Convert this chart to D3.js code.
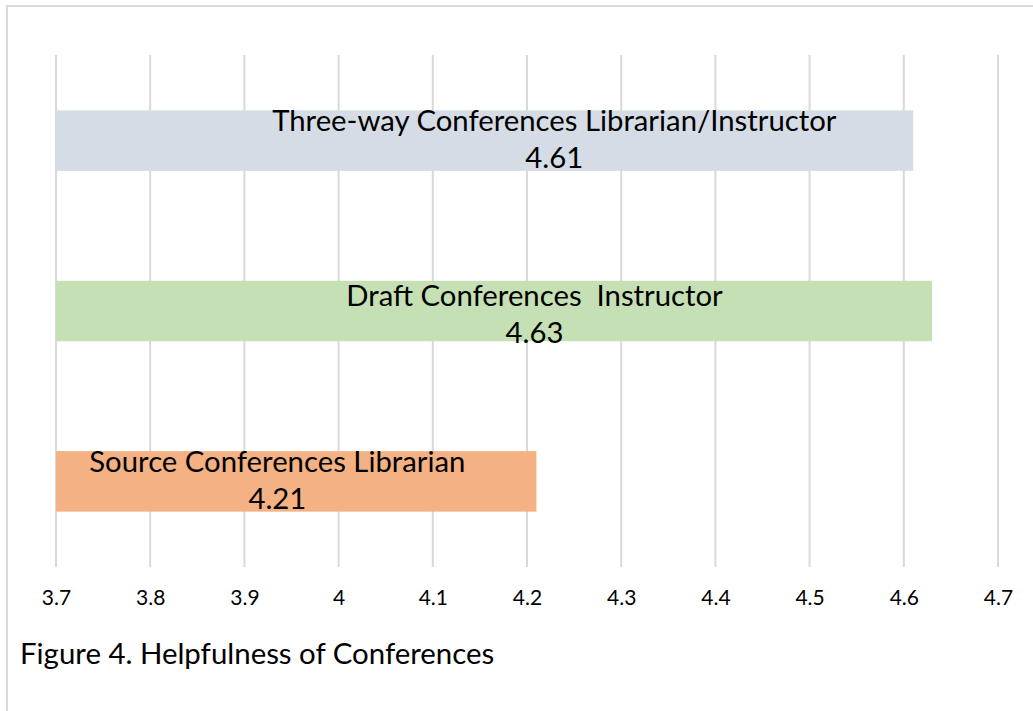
<!DOCTYPE html>
<html>
<head>
<meta charset="utf-8">
<script src="https://cdn.jsdelivr.net/npm/d3@7"></script>
<style>
  body { margin: 0; background: #fff; }
  text { font-family: Lato, "Open Sans", sans-serif; fill: #000; }
</style>
</head>
<body>
<svg id="chart" width="1033" height="711"></svg>
<script>
'use strict';

// data
var categories = ['Three-way Conferences Librarian/Instructor', 'Draft Conferences  Instructor', 'Source Conferences Librarian'];
var values = [4.61, 4.63, 4.21];
var colors = ['#d6dce5', '#c5e0b4', '#f4b183'];
var ticks = [3.7, 3.8, 3.9, 4, 4.1, 4.2, 4.3, 4.4, 4.5, 4.6, 4.7];
var caption = 'Figure 4. Helpfulness of Conferences';

// label centres (in axis units) where the data labels were dragged to
var labelAt = [4.229, 4.208, 3.935];
var labelDy = [0, 4, 0];

var svg = d3.select('#chart');

var x = d3.scaleLinear()
    .domain([3.7, 4.7])
    .range([56, 998]);

var y = d3.scaleBand()
    .domain(categories)
    .range([55, 567])
    .paddingInner(0.645)
    .paddingOuter(0.325);

// outer frame (only top and left edges visible)
svg.append('path')
    .attr('d', 'M7,711V6H1033')
    .attr('fill', 'none')
    .attr('stroke', '#d9d9d9')
    .attr('stroke-width', 2);

// gridlines
svg.selectAll('.grid')
    .data(ticks)
    .enter().append('line')
    .attr('class', 'grid')
    .attr('x1', function(d) { return x(d); })
    .attr('x2', function(d) { return x(d); })
    .attr('y1', 55)
    .attr('y2', 567)
    .attr('stroke', '#d9d9d9')
    .attr('stroke-width', 2);

// bars
svg.selectAll('.bar')
    .data(categories)
    .enter().append('rect')
    .attr('class', 'bar')
    .attr('x', x(3.7))
    .attr('y', function(d) { return y(d); })
    .attr('width', function(d, i) { return x(values[i]) - x(3.7); })
    .attr('height', y.bandwidth())
    .attr('fill', function(d, i) { return colors[i]; });

// data labels
var labels = svg.selectAll('.label')
    .data(categories)
    .enter().append('text')
    .attr('class', 'label')
    .attr('text-anchor', 'middle')
    .style('font-size', '29.3px')
    .style('white-space', 'pre');

labels.append('tspan')
    .attr('x', function(d, i) { return x(labelAt[i]); })
    .attr('y', function(d, i) { return y(d) + 21 + labelDy[i]; })
    .text(function(d) { return d; });

labels.append('tspan')
    .attr('x', function(d, i) { return x(labelAt[i]); })
    .attr('y', function(d, i) { return y(d) + 58 + labelDy[i]; })
    .text(function(d, i) { return values[i].toFixed(2); });

// x axis
var xAxis = d3.axisBottom(x)
    .tickValues(ticks)
    .tickSize(0)
    .tickPadding(0)
    .tickFormat(function(d) { return String(d); });

var axisG = svg.append('g')
    .attr('transform', 'translate(0,590)')
    .call(xAxis);
axisG.select('.domain').remove();
axisG.selectAll('text')
    .attr('dy', '0.71em')
    .style('font-family', 'Lato, "Open Sans", sans-serif')
    .style('font-size', '21px')
    .attr('fill', '#000');

// caption
svg.append('text')
    .attr('x', 20)
    .attr('y', 664)
    .style('font-size', '29.4px')
    .text(caption);
</script>
</body>
</html>
